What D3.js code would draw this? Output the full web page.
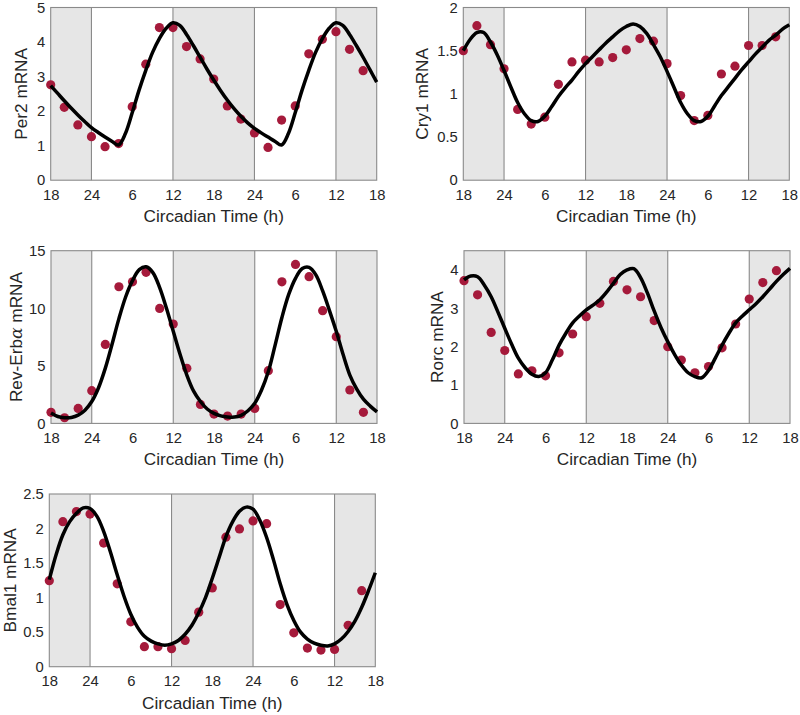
<!DOCTYPE html>
<html>
<head>
<meta charset="utf-8">
<script src="https://cdn.jsdelivr.net/npm/d3@7"></script>
<style>
  body { margin: 0; background: #fff; }
  svg { display: block; font-family: "Liberation Sans", Arial, Helvetica, sans-serif; }
</style>
</head>
<body>
<svg id="chart" width="800" height="715"></svg>
<script>
// ---------- data ----------
const tickValues = [18, 24, 30, 36, 42, 48, 54, 60, 66];
const tickLabels = ["18", "24", "6", "12", "18", "24", "6", "12", "18"];
const darkIntervals = [[18, 24], [36, 48], [60, 66]];
const dividerTimes = [24, 36, 48, 60];

const sampleTimes = [18,20,22,24,26,28,30,32,34,36,38,40,42,44,46,48,50,52,54,56,58,60,62,64];
const curveTimes = [18,19,20,21,22,23,24,25,26,27,28,29,30,31,32,33,34,35,36,37,38,39,40,41,42,
                    43,44,45,46,47,48,49,50,51,52,53,54,55,56,57,58,59,60,61,62,63,64,65,66];

const per2Points = [2.76,2.11,1.6,1.26,0.97,1.06,2.13,3.36,4.42,4.42,3.87,3.51,2.93,2.15,1.77,1.37,0.95,1.74,2.15,3.66,4.08,4.3,3.79,3.17];
const per2Curve = [2.74,2.52,2.3,2.09,1.89,1.7,1.52,1.38,1.25,1.13,1.02,1.35,1.95,2.6,3.18,3.7,4.1,4.4,4.56,4.48,4.22,3.9,3.56,3.22,2.9,
                   2.6,2.32,2.07,1.85,1.66,1.5,1.37,1.25,1.13,1.02,1.35,1.95,2.6,3.18,3.7,4.1,4.4,4.56,4.48,4.22,3.9,3.56,3.2,2.84];

const cry1Points = [1.5,1.79,1.57,1.29,0.82,0.65,0.73,1.11,1.37,1.39,1.37,1.42,1.51,1.64,1.61,1.35,0.98,0.69,0.75,1.23,1.32,1.56,1.56,1.66];
const cry1Curve = [1.5,1.63,1.71,1.71,1.6,1.45,1.27,1.08,0.9,0.77,0.69,0.68,0.74,0.85,0.97,1.07,1.16,1.26,1.35,1.43,1.51,1.59,1.66,1.73,1.78,
                   1.81,1.78,1.7,1.57,1.43,1.26,1.08,0.9,0.77,0.69,0.68,0.74,0.86,0.98,1.08,1.18,1.28,1.37,1.46,1.54,1.62,1.68,1.75,1.8];

const revErbPoints = [0.96,0.49,1.3,2.84,6.86,11.87,12.3,13.12,9.99,8.63,4.78,1.65,0.81,0.64,0.81,1.3,4.58,12.3,13.81,12.74,9.79,7.53,2.9,0.96];
const revErbCurve = [0.9,0.6,0.5,0.52,0.72,1.15,1.9,3.1,4.8,6.9,9.1,11.0,12.4,13.35,13.6,13.1,11.8,10.0,8.0,6.0,4.2,2.8,1.9,1.25,0.87,
                     0.65,0.56,0.55,0.7,1.1,1.75,2.9,4.5,6.8,9.2,11.2,12.6,13.45,13.55,12.9,11.5,9.8,8.0,6.0,4.2,3.0,2.1,1.5,1.0];

const rorcPoints = [3.72,3.35,2.37,1.9,1.29,1.37,1.24,1.84,2.33,2.78,3.13,3.7,3.48,3.3,2.68,2.0,1.65,1.32,1.48,1.97,2.59,3.24,3.67,3.98];
const rorcCurve = [3.74,3.84,3.82,3.6,3.3,2.9,2.48,2.07,1.7,1.45,1.28,1.22,1.32,1.65,2.04,2.35,2.62,2.8,2.96,3.08,3.22,3.42,3.65,3.88,4.0,
                   4.03,3.8,3.4,2.93,2.5,2.13,1.8,1.52,1.32,1.22,1.19,1.38,1.7,2.04,2.35,2.62,2.8,2.96,3.12,3.3,3.5,3.7,3.88,4.04];

const bmal1Points = [1.245,2.1,2.245,2.21,1.79,1.2,0.65,0.29,0.29,0.26,0.38,0.79,1.14,1.875,1.995,2.11,2.07,0.9,0.49,0.27,0.24,0.25,0.6,1.1];
const bmal1Curve = [1.26,1.62,1.91,2.1,2.22,2.3,2.29,2.18,1.96,1.66,1.33,1.02,0.76,0.57,0.44,0.37,0.33,0.31,0.33,0.38,0.47,0.6,0.78,1.0,1.28,
                    1.58,1.88,2.1,2.25,2.31,2.28,2.12,1.87,1.55,1.2,0.9,0.67,0.5,0.4,0.34,0.31,0.3,0.33,0.4,0.51,0.66,0.86,1.1,1.36];

const panels = [
  { label: "Per2 mRNA",  points: per2Points,   curve: per2Curve,   yMax: 5,   yTicks: [0,1,2,3,4,5],       yFmt: d => d },
  { label: "Cry1 mRNA",  points: cry1Points,   curve: cry1Curve,   yMax: 2,   yTicks: [0,0.5,1,1.5,2],     yFmt: d => d },
  { label: "Rev-Erbα mRNA", points: revErbPoints, curve: revErbCurve, yMax: 15, yTicks: [0,5,10,15],     yFmt: d => d },
  { label: "Rorc mRNA",  points: rorcPoints,   curve: rorcCurve,   yMax: 4.5, yTicks: [0,1,2,3,4],         yFmt: d => d },
  { label: "Bmal1 mRNA", points: bmal1Points,  curve: bmal1Curve,  yMax: 2.5, yTicks: [0,0.5,1,1.5,2,2.5], yFmt: d => d }
];

// ---------- layout ----------
const layout = [
  { left: 50.7,  top: 7.5,   labelX: 21 },
  { left: 463.3, top: 7.5,   labelX: 421.5 },
  { left: 51.0,  top: 250.7, labelX: 16 },
  { left: 464.0, top: 250.7, labelX: 437 },
  { left: 49.3,  top: 494.0, labelX: 9.5 }
];
const plotW = 326, plotH = 172.7;

const svg = d3.select("#chart");
const tickColor = "#262626";

panels.forEach((p, i) => {
  const L = layout[i];
  const g = svg.append("g").attr("transform", `translate(${L.left},${L.top})`);
  const x = d3.scaleLinear().domain([18, 66]).range([0, plotW]);
  const y = d3.scaleLinear().domain([0, p.yMax]).range([plotH, 0]);

  // shaded dark phases
  g.selectAll("rect.dark").data(darkIntervals).enter().append("rect")
    .attr("x", d => x(d[0])).attr("width", d => x(d[1]) - x(d[0]))
    .attr("y", 0).attr("height", plotH)
    .attr("fill", "#e6e6e6");

  // dividers
  g.selectAll("line.div").data(dividerTimes).enter().append("line")
    .attr("x1", d => x(d)).attr("x2", d => x(d))
    .attr("y1", 0).attr("y2", plotH)
    .attr("stroke", "#8a8a8a").attr("stroke-width", 1.1);

  // box
  g.append("rect").attr("x", 0).attr("y", 0).attr("width", plotW).attr("height", plotH)
    .attr("fill", "none").attr("stroke", "#8a8a8a").attr("stroke-width", 1.1);

  // x axis
  const xAxis = d3.axisBottom(x).tickValues(tickValues).tickSize(0).tickPadding(0)
    .tickFormat((d, k) => tickLabels[k]);
  const xg = g.append("g").attr("transform", `translate(0,${plotH})`).call(xAxis);
  xg.select(".domain").remove();
  xg.selectAll("text").attr("dy", null).attr("y", 19.5).attr("dominant-baseline", "auto")
    .attr("fill", tickColor).style("font-size", "14.8px").style("font-family", "Liberation Sans, Arial, sans-serif");

  // y axis
  const yAxis = d3.axisLeft(y).tickValues(p.yTicks).tickSize(0).tickPadding(5.5).tickFormat(p.yFmt);
  const yg = g.append("g").call(yAxis);
  yg.select(".domain").remove();
  yg.selectAll("text").attr("fill", tickColor).style("font-size", "14.8px")
    .style("font-family", "Liberation Sans, Arial, sans-serif");

  // x label
  g.append("text").attr("x", plotW / 2).attr("y", plotH + 42)
    .attr("text-anchor", "middle").attr("fill", tickColor)
    .style("font-size", "17.2px").text("Circadian Time (h)");

  // y label
  const yl = svg.append("text")
    .attr("transform", `translate(${L.labelX},${L.top + plotH / 2}) rotate(-90)`)
    .attr("text-anchor", "middle").attr("dominant-baseline", "central")
    .attr("fill", tickColor).style("font-size", "17.2px");
  if (p.label.startsWith("Rev-Erb")) {
    yl.append("tspan").text("Rev-Erb");
    yl.append("tspan").style("font-style", "italic").style("font-family", "DejaVu Serif, serif").text("α");
    yl.append("tspan").text(" mRNA");
  } else {
    yl.text(p.label);
  }

  // data points
  g.selectAll("circle").data(p.points).enter().append("circle")
    .attr("cx", (d, k) => x(sampleTimes[k])).attr("cy", d => y(d))
    .attr("r", 4.6).attr("fill", "#a51a3b");

  // model curve
  const line = d3.line().x((d, k) => x(curveTimes[k])).y(d => y(d)).curve(d3.curveCatmullRom.alpha(0.5));
  g.append("path").datum(p.curve).attr("d", line)
    .attr("fill", "none").attr("stroke", "#000").attr("stroke-width", 3.5)
    .attr("stroke-linejoin", "round").attr("stroke-linecap", "butt");
});
</script>
</body>
</html>
